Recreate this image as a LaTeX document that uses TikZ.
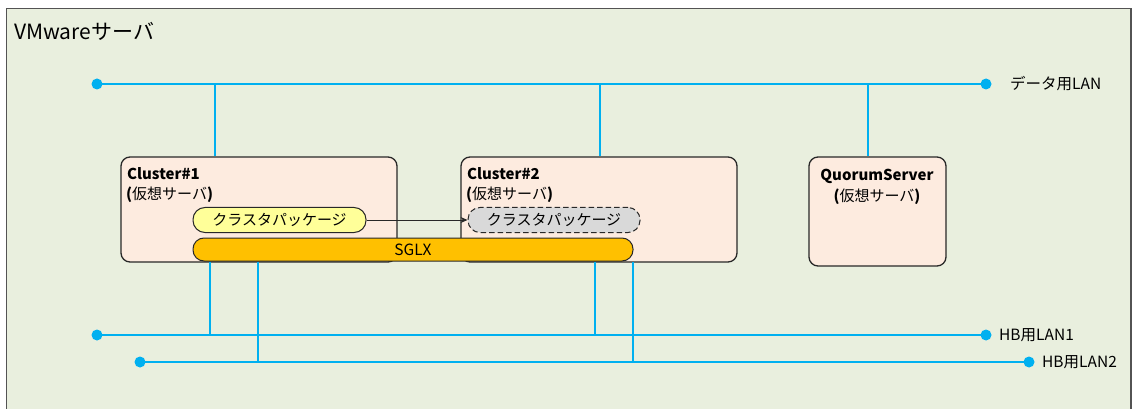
\documentclass[tikz,border=0pt]{standalone}
\usepackage{fontspec}
\setmainfont{Noto Sans CJK JP}
\usetikzlibrary{arrows.meta}
\definecolor{bgc}{RGB}{233,239,222}
\definecolor{srvc}{RGB}{253,235,223}
\definecolor{pkgy}{RGB}{255,255,153}
\definecolor{pkgg}{RGB}{217,217,217}
\definecolor{sglxc}{RGB}{255,192,0}
\definecolor{lanc}{RGB}{0,176,240}
\definecolor{edgec}{RGB}{40,40,40}
\tikzset{
  srv/.style={draw=edgec, line width=1.3pt, fill=srvc, rounded corners=9pt},
  pill/.style={draw=edgec, line width=1pt, rounded corners=12pt, minimum height=25pt, inner sep=0pt, font=\fontsize{15}{17}\selectfont},
  lan/.style={draw=lanc, line width=2.8pt},
  dot/.style={circle, fill=lanc, inner sep=0pt, minimum size=11pt},
  lbl/.style={anchor=west, inner sep=0pt, font=\fontsize{15.5}{17}\selectfont},
  ttl/.style={anchor=west, inner sep=0pt, font=\bfseries\fontsize{15}{17}\selectfont},
  sub/.style={anchor=west, inner sep=0pt, font=\fontsize{15}{17}\selectfont},
}
\newcommand{\kaso}{{\bfseries(}仮想サーバ{\bfseries)}}
\begin{document}
\begin{tikzpicture}[x=1pt,y=-1pt]
\useasboundingbox (0,0) rectangle (1136,409);
\clip (0,0) rectangle (1136,409);
% outer frame
\draw[draw=edgec!80, line width=1.6pt, fill=bgc] (6.5,8.5) rectangle (1131,430);
\node[anchor=west, inner sep=0pt, font=\fontsize{21}{23}\selectfont] (vmt) at (14,31) {VMwareサーバ};

% LAN dots
\node[dot] (dL) at (97,84) {};
\node[dot] (dR) at (986,84) {};
\node[dot] (h1L) at (97,335) {};
\node[dot] (h1R) at (986,335) {};
\node[dot] (h2L) at (140,362) {};
\node[dot] (h2R) at (1029,362) {};

% servers
\node[srv, minimum width=276pt, minimum height=105pt] (c1) at (259,209.5) {};
\node[srv, minimum width=276pt, minimum height=105pt] (c2) at (599,209.5) {};
\node[srv, minimum width=137pt, minimum height=109pt] (qs) at (877.5,211.5) {};

% LAN lines
\draw[lan] (dL.center) -- (dR.center);
\draw[lan] (h1L.center) -- (h1R.center);
\draw[lan] (h2L.center) -- (h2R.center);

\coordinate (t1) at (215,84);
\coordinate (t2) at (600,84);
\coordinate (t3) at (868,84);
\draw[lan] (t1) -- (t1 |- c1.north);
\draw[lan] (t2) -- (t2 |- c2.north);
\draw[lan] (t3) -- (t3 |- qs.north);

% packages and SGLX
\node[pill, fill=pkgy, minimum width=173pt] (pk1) at (279.5,220) {クラスタパッケージ};
\node[pill, fill=pkgg, dash pattern=on 5.5pt off 3pt, minimum width=172pt] (pk2) at (554,220) {クラスタパッケージ};
\node[pill, fill=sglxc, minimum width=440pt, minimum height=23pt, rounded corners=11pt, font=\fontsize{15.5}{17}\selectfont] (sg) at (413,249.5) {SGLX};
\draw[edgec, line width=0.8pt, -{Stealth[length=7pt,width=6pt]}] (pk1.east) -- (pk2.west);

% HB verticals
\coordinate (b1) at (210,335);
\coordinate (b2) at (258,362);
\coordinate (b3) at (595,335);
\coordinate (b4) at (633,362);
\draw[lan] (b1 |- sg.south) -- (b1);
\draw[lan] (b2 |- sg.south) -- (b2);
\draw[lan] (b3 |- sg.south) -- (b3);
\draw[lan] (b4 |- sg.south) -- (b4);

% texts
\node[ttl] (c1a) at (127,174) {Cluster\#1};
\node[sub] (c1b) at (126,195) {\kaso};
\node[ttl] (c2a) at (467,174) {Cluster\#2};
\node[sub] (c2b) at (466,195) {\kaso};
\node[ttl, anchor=center] (qsa) at (877,176) {QuorumServer};
\node[sub, anchor=center] (qsb) at (877,197) {\kaso};

\node[lbl] (ldata) at (1010,84) {データ用LAN};
\node[lbl] (lhb1) at (999,335) {HB用LAN1};
\node[lbl] (lhb2) at (1042,362) {HB用LAN2};
\end{tikzpicture}
\end{document}
